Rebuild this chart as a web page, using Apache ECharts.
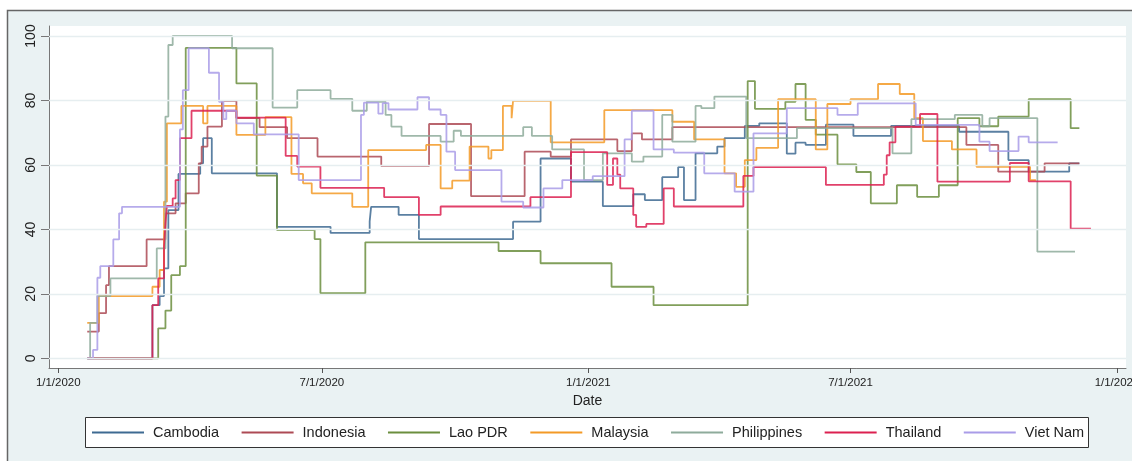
<!DOCTYPE html>
<html><head><meta charset="utf-8">
<script src="https://cdn.jsdelivr.net/npm/echarts@6/dist/echarts.min.js"></script>
<style>html,body{margin:0;padding:0;background:#fff}#c{width:1132px;height:461px}</style>
</head><body><div id="c"></div>
<script>
const countries = ['Cambodia','Indonesia','Lao PDR','Malaysia','Philippines','Thailand','Viet Nam'];
const colors = ['#3e6a92','#ad4a55','#6b8e3e','#f39a26','#8eab9b','#dc2050','#a99ce8'];
const yTicks = [0,20,40,60,80,100];
const xTicks = ['2020-01-01','2020-07-01','2021-01-01','2021-07-01','2022-01-01'];

const cambodia = [['2020-01-21',0],['2020-03-06',16.5],['2020-03-11',19.3],['2020-03-14',27.9],['2020-03-17',46],['2020-03-24',57.2],['2020-04-08',60.5],['2020-04-10',68.3],['2020-04-16',57.4],['2020-05-31',40.8],['2020-07-07',38.9],['2020-08-03',42.5],['2020-08-04',47],['2020-08-23',44.5],['2020-09-06',37],['2020-11-10',42.4],['2020-11-29',62],['2020-12-20',54.8],['2021-01-11',47.2],['2021-02-01',50.9],['2021-02-09',49.1],['2021-02-21',56.2],['2021-03-04',59.3],['2021-03-08',49.1],['2021-03-16',63.6],['2021-03-31',65.7],['2021-04-05',68.3],['2021-04-19',72.1],['2021-04-29',72.9],['2021-05-18',63.5],['2021-05-24',66.9],['2021-05-31',66.2],['2021-06-14',72.5],['2021-07-03',69],['2021-07-29',72.1],['2021-09-14',70.3],['2021-10-18',61.5],['2021-11-01',57.9],['2021-11-29',60.5],['2021-12-06',60.5]];
const indonesia = [['2020-01-21',8.3],['2020-01-29',14],['2020-02-03',22.7],['2020-02-05',28.6],['2020-03-02',36.9],['2020-03-15',45],['2020-03-22',48.1],['2020-03-29',51.2],['2020-04-07',60.5],['2020-04-09',65.7],['2020-04-13',71.9],['2020-04-23',79.9],['2020-05-03',74.5],['2020-05-19',71.7],['2020-06-07',68.3],['2020-06-28',62.6],['2020-08-11',59.7],['2020-09-13',72.7],['2020-10-12',50.3],['2020-11-18',64.1],['2020-12-06',62.6],['2020-12-20',67.9],['2021-01-21',64.3],['2021-01-31',69.8],['2021-02-07',67.9],['2021-02-28',71.7],['2021-09-19',66.2],['2021-10-11',57.9],['2021-11-12',60.5],['2021-12-06',60.5]];
const laoPDR = [['2020-01-21',0],['2020-03-10',9.3],['2020-03-15',14.8],['2020-03-19',25.8],['2020-03-25',28.6],['2020-03-29',96.3],['2020-05-03',85.3],['2020-05-17',56.7],['2020-05-31',39.8],['2020-06-26',37],['2020-06-30',20.2],['2020-07-31',36],['2020-10-31',33.3],['2020-11-29',29.5],['2021-01-17',22.2],['2021-02-15',16.5],['2021-04-21',86],['2021-04-26',77.4],['2021-05-17',79.6],['2021-05-24',85.1],['2021-05-31',74],['2021-06-07',69.4],['2021-06-22',60.2],['2021-07-05',57.8],['2021-07-15',48.1],['2021-08-02',53.7],['2021-08-16',50.1],['2021-08-31',53.7],['2021-09-13',74.5],['2021-09-28',72],['2021-10-11',75],['2021-11-01',80.4],['2021-11-30',71.4],['2021-12-06',71.4]];
const malaysia = [['2020-01-21',11],['2020-01-29',19.3],['2020-03-06',22.2],['2020-03-11',27.4],['2020-03-14',48.6],['2020-03-16',72.9],['2020-03-26',78.3],['2020-04-10',72.9],['2020-04-13',78.3],['2020-05-03',69.3],['2020-05-23',74.8],['2020-06-10',57.2],['2020-06-18',54.3],['2020-06-24',51.2],['2020-07-22',47],['2020-08-02',64.6],['2020-09-11',66.2],['2020-09-21',52.7],['2020-09-29',55.1],['2020-10-11',65.7],['2020-10-24',62],['2020-10-26',64.6],['2020-11-03',78.3],['2020-11-09',74.5],['2020-11-10',79.9],['2020-12-06',67],['2021-01-12',77],['2021-02-28',73.4],['2021-03-15',67.9],['2021-04-05',57.4],['2021-04-13',53.2],['2021-04-19',61.5],['2021-04-27',65.3],['2021-05-12',80.4],['2021-06-07',64.8],['2021-06-15',78.9],['2021-07-01',80.4],['2021-07-20',85.1],['2021-08-04',82],['2021-08-14',74.5],['2021-08-20',67.4],['2021-09-09',64.8],['2021-09-26',59.4],['2021-11-02',55.3],['2021-11-06',55.3]];
const philippines = [['2020-01-21',0],['2020-01-23',11],['2020-01-28',19.3],['2020-02-06',24.8],['2020-03-09',34.1],['2020-03-15',75],['2020-03-17',97.2],['2020-03-20',100],['2020-04-30',96.2],['2020-05-28',77.8],['2020-06-14',83.2],['2020-07-07',80.5],['2020-07-22',76.8],['2020-08-01',79.6],['2020-08-14',75.5],['2020-08-18',71.9],['2020-08-25',69],['2020-09-21',67.2],['2020-09-30',70.6],['2020-10-05',69],['2020-11-17',71.7],['2020-11-23',69],['2020-12-07',64.8],['2020-12-29',55.3],['2021-01-11',63.6],['2021-01-31',61],['2021-02-08',62.6],['2021-02-21',75.5],['2021-02-28',67.2],['2021-03-16',78.3],['2021-03-20',77.6],['2021-03-29',81.2],['2021-04-20',68.3],['2021-05-25',71.4],['2021-07-30',63.6],['2021-08-12',74.2],['2021-09-11',75.5],['2021-09-30',72],['2021-10-05',74.5],['2021-11-07',33.1],['2021-12-03',33.1]];
const thailand = [['2020-01-21',0],['2020-03-06',16.5],['2020-03-10',24.8],['2020-03-14',34.6],['2020-03-15',41.9],['2020-03-16',47.3],['2020-03-20',49.6],['2020-03-22',55.3],['2020-03-25',68.3],['2020-04-02',76.8],['2020-05-03',74.7],['2020-06-06',62.8],['2020-06-14',59.5],['2020-06-30',52.9],['2020-08-13',50],['2020-09-06',44.5],['2020-09-21',47.1],['2020-11-22',50],['2020-12-20',64],['2021-01-14',53.8],['2021-01-18',62],['2021-01-21',57],['2021-01-23',52.7],['2021-02-01',44.5],['2021-02-03',40.8],['2021-02-10',41.7],['2021-02-22',52.7],['2021-03-01',47.1],['2021-04-18',56.6],['2021-04-25',59.3],['2021-06-14',53.8],['2021-07-24',57],['2021-07-26',63],['2021-07-28',67],['2021-08-01',71.9],['2021-08-18',75.8],['2021-08-30',54.8],['2021-10-19',60.6],['2021-11-01',54.9],['2021-11-30',40.2],['2021-12-14',40.2]];
const vietNam = [['2020-01-21',0],['2020-01-25',2.6],['2020-01-28',25],['2020-01-30',28.6],['2020-02-08',36.9],['2020-02-12',45],['2020-02-14',47],['2020-03-25',71],['2020-03-27',83.2],['2020-03-31',96.2],['2020-04-14',88.6],['2020-04-21',79.6],['2020-04-24',74.2],['2020-04-26',76.8],['2020-05-03',72.9],['2020-05-15',69.5],['2020-06-15',55.3],['2020-07-28',75.5],['2020-07-30',79.3],['2020-08-09',75.9],['2020-08-12',79.2],['2020-08-16',77.2],['2020-09-05',81],['2020-09-13',77.2],['2020-09-21',75.5],['2020-09-25',64.1],['2020-10-01',58.4],['2020-11-02',48.6],['2020-11-17',46.8],['2020-12-01',52.7],['2020-12-14',55.3],['2021-01-04',56.5],['2021-01-26',67.9],['2021-01-31',76.8],['2021-02-15',64.8],['2021-03-01',63.8],['2021-03-22',57.4],['2021-04-12',51.7],['2021-04-25',69.8],['2021-05-18',77.6],['2021-06-22',75.5],['2021-07-06',79.1],['2021-08-15',72.4],['2021-09-28',67.2],['2021-10-05',64.3],['2021-10-25',68.8],['2021-11-01',67],['2021-11-21',67]];

const seriesData = [cambodia, indonesia, laoPDR, malaysia, philippines, thailand, vietNam];

function toTime(s){ const p = s.split('-').map(Number); return new Date(p[0], p[1]-1, p[2]).getTime(); }
const DAY = 86400000;
const t0 = toTime(xTicks[0]);
const xMin = t0 - 6.4 * DAY;
const xMax = t0 + 737.2 * DAY;

const chart = echarts.init(document.getElementById('c'), null, {renderer: 'canvas'});
const series = countries.map((name, i) => ({
  name, type: 'line', step: 'end', symbol: 'none', showSymbol: false,
  data: seriesData[i].map(p => [toTime(p[0]), p[1]]),
  lineStyle: {color: colors[i], width: 1.8, opacity: 0.85},
  itemStyle: {color: colors[i]},
  emphasis: {disabled: true}, z: 3, silent: true
}));
series.unshift({
  name: '_grid', type: 'line', data: [], z: 1, silent: true,
  markLine: {silent: true, symbol: 'none', label: {show: false}, animation: false,
    lineStyle: {color: '#e6eef0', width: 1.3, type: 'solid'},
    data: yTicks.map(v => ({yAxis: v}))}
});

chart.setOption({
  animation: false,
  backgroundColor: '#eaf2f3',
  textStyle: {fontFamily: 'Liberation Sans, Arial, sans-serif'},
  grid: {left: 49, top: 26, right: 6, bottom: 93, show: true, backgroundColor: '#fff', borderWidth: 0,
    containLabel: false, outerBoundsMode: 'none'},
  xAxis: {
    type: 'value', min: xMin, max: xMax, scale: true,
    name: 'Date', nameLocation: 'middle', nameGap: 25,
    nameTextStyle: {fontSize: 14, color: '#222'},
    axisLine: {show: true, onZero: false, lineStyle: {color: '#777', width: 1}},
    axisTick: {show: true, length: 5, lineStyle: {color: '#555'}, customValues: xTicks.map(toTime)},
    axisLabel: {color: '#222', fontSize: 11.5, margin: 9, customValues: xTicks.map(toTime), hideOverlap: false,
      formatter: v => { const d = new Date(v); return (d.getMonth()+1) + '/' + d.getDate() + '/' + d.getFullYear(); }},
    splitLine: {show: false}
  },
  yAxis: {
    type: 'value', min: -3, max: 103.1,
    axisLine: {show: true, onZero: false, lineStyle: {color: '#777', width: 1}},
    axisTick: {show: true, length: 8, lineStyle: {color: '#777'}, customValues: yTicks},
    axisLabel: {color: '#222', fontSize: 14, rotate: 90, margin: 11, customValues: yTicks},
    splitLine: {show: false}
  },
  legend: {
    data: countries, left: 92, top: 425, padding: 0, icon: 'rect', itemWidth: 52, itemHeight: 2, itemGap: 22.5,
    textStyle: {fontSize: 14.5, color: '#222', padding: [0, 0, 0, 4]}, z: 10, selectedMode: false
  },
  graphic: [
    {type: 'rect', shape: {x: 0, y: 0, width: 1132, height: 10}, style: {fill: '#fff'}, silent: true},
    {type: 'rect', shape: {x: 0, y: 0, width: 7, height: 461}, style: {fill: '#fff'}, silent: true},
    {type: 'polyline', shape: {points: [[7.5, 461], [7.5, 10.5], [1132, 10.5]]}, style: {stroke: '#666', lineWidth: 1.5, fill: null}, silent: true},
    {type: 'rect', shape: {x: 85.5, y: 417.5, width: 1003, height: 30}, style: {fill: '#fff', stroke: '#333', lineWidth: 1}, silent: true, z: 0}
  ],
  series
});
</script></body></html>
